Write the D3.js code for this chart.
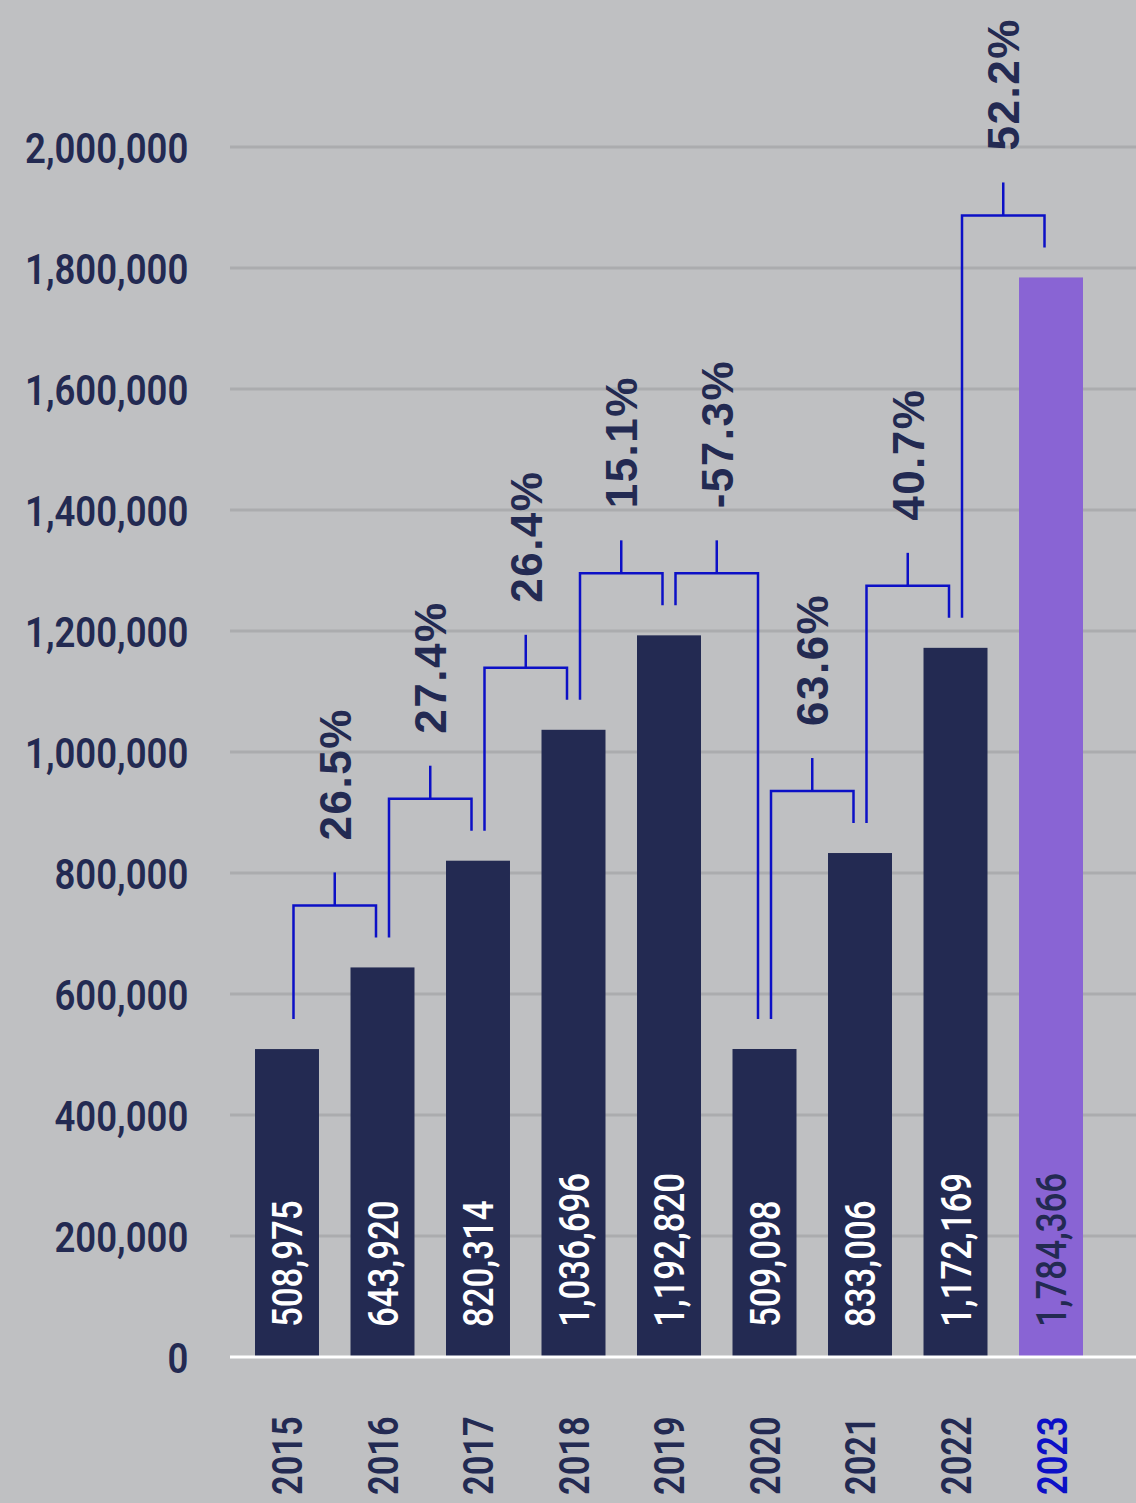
<!DOCTYPE html>
<html><head><meta charset="utf-8">
<script src="https://cdn.jsdelivr.net/npm/d3@7"></script>
<style>
html,body{margin:0;padding:0;background:#bfc0c2;}
svg{display:block;}
</style></head><body>
<script>
const years = ["2015","2016","2017","2018","2019","2020","2021","2022","2023"];
const values = [508975, 643920, 820314, 1036696, 1192820, 509098, 833006, 1172169, 1784366];
const changeLabels = ["26.5%","27.4%","26.4%","15.1%","-57.3%","63.6%","40.7%","52.2%"];
const yTicks = [0,200000,400000,600000,800000,1000000,1200000,1400000,1600000,1800000,2000000];

const W = 1136, H = 1503;
const navy = "#232a52", purple = "#8964d4", blue = "#0c10c6", grid = "#abacae";
const svg = d3.select("body").append("svg").attr("width", W).attr("height", H);
svg.append("rect").attr("width", W).attr("height", H).attr("fill", "#bfc0c2");

const x = d3.scaleBand().domain(years).range([255, 1083]).paddingInner(0.33).paddingOuter(0);
const y = d3.scaleLinear().domain([0, 2000000]).range([1357, 147]);
const cx = d => x(d) + x.bandwidth() / 2;
const condensed = "Roboto, 'Liberation Sans', sans-serif";

// gridlines
svg.append("g").selectAll("line").data(yTicks.filter(d => d > 0)).join("line")
  .attr("x1", 230).attr("x2", W).attr("y1", d => y(d)).attr("y2", d => y(d))
  .attr("stroke", grid).attr("stroke-width", 3);

// y axis
const yAxis = svg.append("g").attr("transform", "translate(190,0)")
  .call(d3.axisLeft(y).tickValues(yTicks).tickFormat(d3.format(",")).tickSize(0).tickPadding(2));
yAxis.select(".domain").remove();
yAxis.selectAll("text")
  .attr("fill", navy).attr("font-family", condensed).attr("font-weight", 600)
  .attr("font-size", 42).attr("dy", "0.36em")
  .attr("transform", "scale(0.87,1)");

// bars
svg.append("g").selectAll("rect").data(years).join("rect")
  .attr("x", d => x(d)).attr("width", x.bandwidth())
  .attr("y", (d, i) => y(values[i])).attr("height", (d, i) => y(0) - y(values[i]))
  .attr("fill", (d, i) => i === years.length - 1 ? purple : navy);

// baseline
svg.append("line").attr("x1", 230).attr("x2", W).attr("y1", y(0)).attr("y2", y(0))
  .attr("stroke", "#ffffff").attr("stroke-width", 3);

// bar value labels
svg.append("g").selectAll("text").data(years).join("text")
  .attr("transform", d => `translate(${cx(d)},${y(0) - 30}) rotate(-90) scale(0.81,1)`)
  .attr("dy", "0.36em")
  .attr("font-family", condensed).attr("font-weight", 500).attr("font-size", 43)
  .attr("fill", (d, i) => i === years.length - 1 ? navy : "#ffffff")
  .text((d, i) => d3.format(",")(values[i]));

// x labels
svg.append("g").selectAll("text").data(years).join("text")
  .attr("transform", d => `translate(${cx(d)},${H - 8}) rotate(-90) scale(0.8,1)`)
  .attr("dy", "0.36em")
  .attr("font-family", condensed).attr("font-weight", 600).attr("font-size", 43)
  .attr("fill", (d, i) => i === years.length - 1 ? blue : navy)
  .text(d => d);

// change brackets
const legOff = 6.5, gap = 30, rise = 32, stem = 33, labelGap = 32;
const pairs = changeLabels.map((lab, i) => ({ a: years[i], b: years[i + 1], va: values[i], vb: values[i + 1], lab }));
const bg = svg.append("g").attr("fill", "none").attr("stroke", blue).attr("stroke-width", 2.5);
pairs.forEach(p => {
  const xl = cx(p.a) + legOff, xr = cx(p.b) - legOff;
  const yl = y(p.va) - gap, yr = y(p.vb) - gap;
  const yh = Math.min(yl, yr) - rise;
  const xm = (xl + xr) / 2;
  bg.append("path").attr("d", `M${xl},${yl}V${yh}H${xr}V${yr}`);
  bg.append("path").attr("d", `M${xm},${yh}V${yh - stem}`);
  svg.append("text")
    .attr("transform", `translate(${xm},${yh - stem - labelGap}) rotate(-90)`)
    .attr("dy", "0.36em")
    .attr("font-family", "'Liberation Sans', Arial, sans-serif").attr("font-weight", 700)
    .attr("font-size", 44).attr("letter-spacing", 1.5).attr("fill", navy)
    .text(p.lab);
});
</script>
</body></html>
